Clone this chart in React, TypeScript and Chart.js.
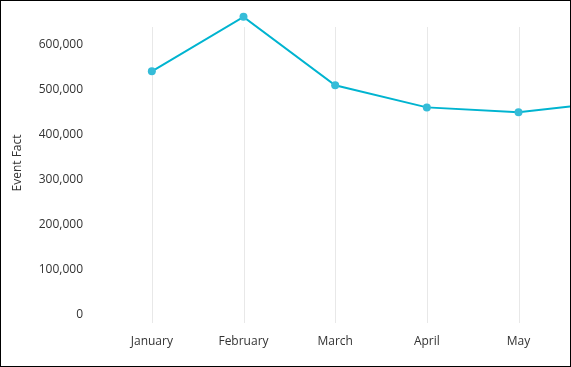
import React, { useEffect, useRef } from "react";
import { Chart, registerables } from "chart.js";

Chart.register(...registerables);

const categories = ["January", "February", "March", "April", "May", "June"];
const eventFact = [541000, 662000, 510000, 461000, 450000, 473000];
const yTickValues = [0, 100000, 200000, 300000, 400000, 500000, 600000];
const yAxisMax = 675000;
const gridTopValue = 640000;

const gridPlugin = {
  id: "shortGrid",
  beforeDatasetsDraw(chart: any) {
    const { ctx, scales, chartArea } = chart;
    const x = scales.x;
    const y = scales.y;
    const top = Math.round(y.getPixelForValue(gridTopValue));
    const bottom = Math.round(chartArea.bottom) + 8;
    ctx.save();
    ctx.strokeStyle = "#e8e8e8";
    ctx.lineWidth = 1;
    for (let i = 0; i < x.ticks.length; i++) {
      const px = Math.round(x.getPixelForTick(i)) + 0.5;
      ctx.beginPath();
      ctx.moveTo(px, top);
      ctx.lineTo(px, bottom);
      ctx.stroke();
    }
    ctx.restore();
  },
};

export default function App() {
  const ref = useRef<HTMLCanvasElement | null>(null);

  useEffect(() => {
    document.body.style.margin = "0";
    const ctx = ref.current!.getContext("2d")!;
    Chart.defaults.font.family = "'Open Sans', sans-serif";
    Chart.defaults.font.size = 12;
    Chart.defaults.color = "#333333";
    const chart = new Chart(ctx, {
      type: "line",
      data: {
        labels: categories,
        datasets: [
          {
            label: "Event Fact",
            data: eventFact,
            borderColor: "#00b4d0",
            backgroundColor: "#35bcd8",
            borderWidth: 2,
            pointRadius: 4,
            pointBorderWidth: 0,
            pointBackgroundColor: "#35bcd8",
            tension: 0,
          },
        ],
      },
      plugins: [gridPlugin],
      options: {
        animation: false,
        responsive: false,
        maintainAspectRatio: false,
        layout: { padding: { top: 10, right: 25, left: 0, bottom: 0 } },
        plugins: { legend: { display: false }, tooltip: { enabled: false } },
        scales: {
          x: {
            offset: true,
            grid: { display: false, offset: false },
            border: { display: false },
            ticks: { padding: 11, maxRotation: 0, autoSkip: false },
            afterFit: (s: any) => {
              s.height = 51;
              s.paddingLeft = 0;
              s.paddingRight = 0;
            },
          },
          y: {
            min: 0,
            max: yAxisMax,
            grid: { display: false, drawTicks: false },
            border: { display: false },
            afterBuildTicks: (s: any) => {
              s.ticks = yTickValues.map((v) => ({ value: v }));
            },
            ticks: {
              padding: 23,
              autoSkip: false,
              callback: (v: any) => Number(v).toLocaleString("en-US"),
            },
            title: {
              display: true,
              text: "Event Fact",
              padding: { top: 9, bottom: 0 },
            },
            afterFit: (s: any) => {
              s.width = 105;
              s.paddingTop = 0;
              s.paddingBottom = 0;
            },
          },
        },
      },
    });
    return () => chart.destroy();
  }, []);

  return (
    <div
      style={{
        position: "absolute",
        left: 0,
        top: 0,
        width: 571,
        height: 367,
        boxSizing: "border-box",
        border: "1px solid #000",
        overflow: "hidden",
        background: "#fff",
      }}
    >
      <canvas ref={ref} width={680} height={365} style={{ display: "block" }} />
    </div>
  );
}
